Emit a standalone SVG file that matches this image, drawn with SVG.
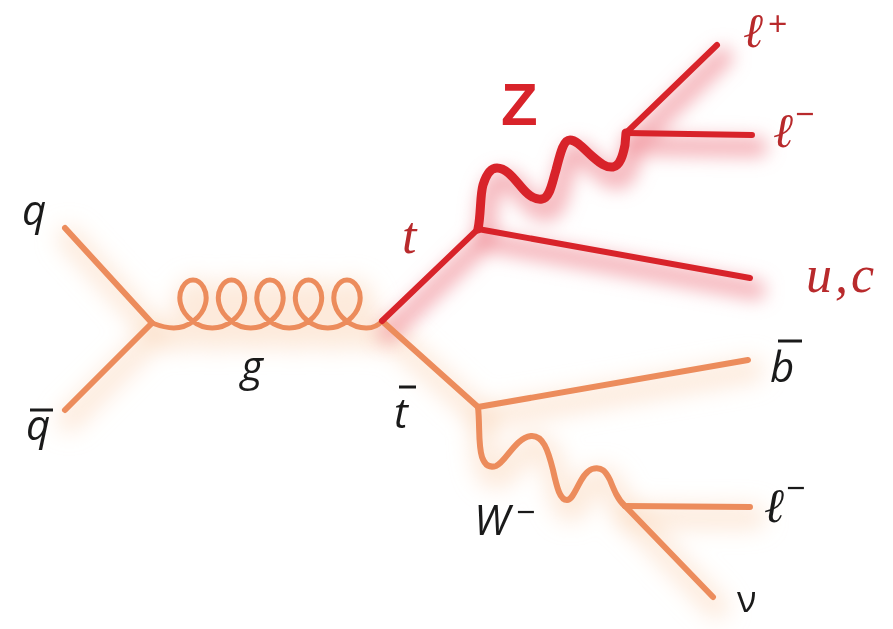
<svg xmlns="http://www.w3.org/2000/svg" width="893" height="629" viewBox="0 0 893 629">
<defs>
<filter id="blurR" x="-40%" y="-40%" width="180%" height="180%"><feGaussianBlur stdDeviation="9"/></filter>
<filter id="blurO" x="-40%" y="-40%" width="180%" height="180%"><feGaussianBlur stdDeviation="11"/></filter>
<path id="p-t" d="M382,321 L478,229"/>
<path id="p-z" d="M478,229 C481,215 480,195 483,185 C487,172 492,168 497,168 C507,168 515,180 523,189 C530,197 536,200 542,199 C550,198 552,183 556,170 C560,155 563,140 570,140 C577,140 585,150 593,157 C600,163 606,168 613,167 C620,166 623,155 625,145 L626,133"/>
<path id="p-lp" d="M626,133 L717,45"/>
<path id="p-lm" d="M626,133 L752,135"/>
<path id="p-uc" d="M478,229 L750,278"/>
<path id="p-q" d="M65,228 L152,323"/>
<path id="p-qb" d="M65,410 L152,323"/>
<path id="p-g" d="M152,323 C160,326 166,328 173.75,328 c14.73,0 28.41,-11.43 31.62,-24 c3.21,-12.57 -4.06,-24 -12.37,-24 c-8.31,0 -15.59,11.43 -12.38,24 c3.21,12.570 16.9,24 31.63,24 c14.73,0 28.41,-11.43 31.62,-24 c3.21,-12.57 -4.06,-24 -12.37,-24 c-8.31,0 -15.59,11.43 -12.38,24 c3.21,12.57 16.9,24 31.63,24 c14.73,0 28.41,-11.43 31.62,-24 c3.21,-12.57 -4.06,-24 -12.37,-24 c-8.31,0 -15.59,11.43 -12.38,24 c3.21,12.57 16.9,24 31.63,24 c14.73,0 28.41,-11.43 31.62,-24 c3.21,-12.57 -4.06,-24 -12.37,-24 c-8.31,0 -15.59,11.43 -12.38,24 c3.21,12.57 16.9,24 31.63,24 c14.73,0 28.41,-11.43 31.62,-24 c3.21,-12.57 -4.06,-24 -12.37,-24 c-8.31,0 -15.59,11.43 -12.38,24 c3.21,12.57 16.9,24 31.63,24 C374,328 378,326 382,321"/>
<path id="p-tb" d="M382,321 L478,407"/>
<path id="p-bb" d="M478,407 L748,360"/>
<path id="p-w" d="M478,407 C480,425 478,445 482,457 C485,466 490,468 496,466 C506,462 515,438 531,436 C543,435 548,450 553,470 C557,488 560,500 567,500 C575,500 580,473 592,469 C602,466 606,472 610,480 C614,490 618,500 625,506"/>
<path id="p-wl" d="M625,506 L750,507"/>
<path id="p-nu" d="M625,506 L713,597"/>
</defs>
<style>
.or{fill:none;stroke:#ec8c5c;stroke-width:6;stroke-linecap:round;stroke-linejoin:round}
.rd{fill:none;stroke:#d8232a;stroke-width:6;stroke-linecap:round;stroke-linejoin:round}
.gl{stroke-width:5}
.zw{stroke-width:9}
.gR{fill:none;stroke:#f29aa2;stroke-width:20;stroke-linecap:round;opacity:.75}
.gO{fill:none;stroke:#fcdcc3;stroke-width:24;stroke-linecap:round;opacity:.6}
.lab{font-family:"Open Sans","DejaVu Sans",sans-serif;font-style:italic;font-size:42px;fill:#1a1a1a}
.up{font-family:"Open Sans","DejaVu Sans",sans-serif;font-size:36px;fill:#1a1a1a}
.ell{font-family:"DejaVu Serif","Liberation Serif",serif;font-style:italic;font-size:48px;fill:#1a1a1a}
.sup{font-family:"Open Sans","DejaVu Sans",sans-serif;font-size:34px;fill:#1a1a1a}
.rl{fill:#b82a2c}
.bar{stroke:#1a1a1a;stroke-width:3}
.rserif{font-family:"Liberation Serif","Times New Roman",serif;font-style:italic;font-size:52px;fill:#b82a2c}
.zlab{font-family:"Liberation Sans",Arial,sans-serif;font-weight:bold;font-size:60px;fill:#d8232a}
</style>
<rect width="893" height="629" fill="#ffffff"/>
<g id="glow-orange" filter="url(#blurO)" transform="translate(4,10)">
<use href="#p-q" class="gO"/><use href="#p-qb" class="gO"/><use href="#p-g" class="gO"/>
<use href="#p-tb" class="gO"/><use href="#p-bb" class="gO"/><use href="#p-w" class="gO"/>
<use href="#p-wl" class="gO"/><use href="#p-nu" class="gO"/>
</g>
<g id="glow-red" filter="url(#blurR)" transform="translate(6,12)">
<use href="#p-t" class="gR"/><use href="#p-z" class="gR"/><use href="#p-lp" class="gR"/>
<use href="#p-lm" class="gR"/><use href="#p-uc" class="gR"/>
</g>
<g id="connectors">
<use href="#p-q" class="or"/>
<use href="#p-qb" class="or"/>
<use href="#p-g" class="or gl"/>
<use href="#p-tb" class="or"/>
<use href="#p-bb" class="or"/>
<use href="#p-w" class="or"/>
<use href="#p-wl" class="or"/>
<use href="#p-nu" class="or"/>
<use href="#p-t" class="rd"/>
<use href="#p-uc" class="rd"/>
<use href="#p-lp" class="rd"/>
<use href="#p-lm" class="rd"/>
<use href="#p-z" class="rd zw"/>
</g>
<g id="node-q"><text class="lab" x="22" y="225">q</text></g>
<g id="node-qbar"><text class="lab" x="26" y="440">q</text><line class="bar" x1="30" y1="410" x2="53" y2="410"/></g>
<g id="node-g"><text class="lab" x="241" y="381">g</text></g>
<g id="node-tbar"><text class="lab" x="394" y="428">t</text><line class="bar" x1="399" y1="387" x2="416" y2="387"/></g>
<g id="node-W"><text class="lab" x="474" y="535" font-size="45">W</text><text class="sup" x="516" y="524">−</text></g>
<g id="node-bbar"><text class="lab" x="770" y="382">b</text><line class="bar" x1="778" y1="341" x2="802" y2="341"/></g>
<g id="node-lminus"><text class="ell" x="764" y="522">ℓ</text><text class="sup" x="786" y="500">−</text></g>
<g id="node-nu"><text class="up" x="737" y="612">ν</text></g>
<g id="node-Z"><text class="zlab" x="501" y="125">Z</text></g>
<g id="node-t"><text class="rserif" x="402" y="253" font-family="Liberation Serif, serif">t</text></g>
<g id="node-lplus-top"><text class="ell rl" x="743" y="47">ℓ</text><text class="sup rl" x="768" y="36" font-size="30">+</text></g>
<g id="node-lminus-top"><text class="ell rl" x="773" y="147">ℓ</text><text class="sup rl" x="795" y="126">−</text></g>
<g id="node-uc"><text class="rserif" x="806" y="292" letter-spacing="3" font-family="Liberation Serif, serif">u,c</text></g>
</svg>
